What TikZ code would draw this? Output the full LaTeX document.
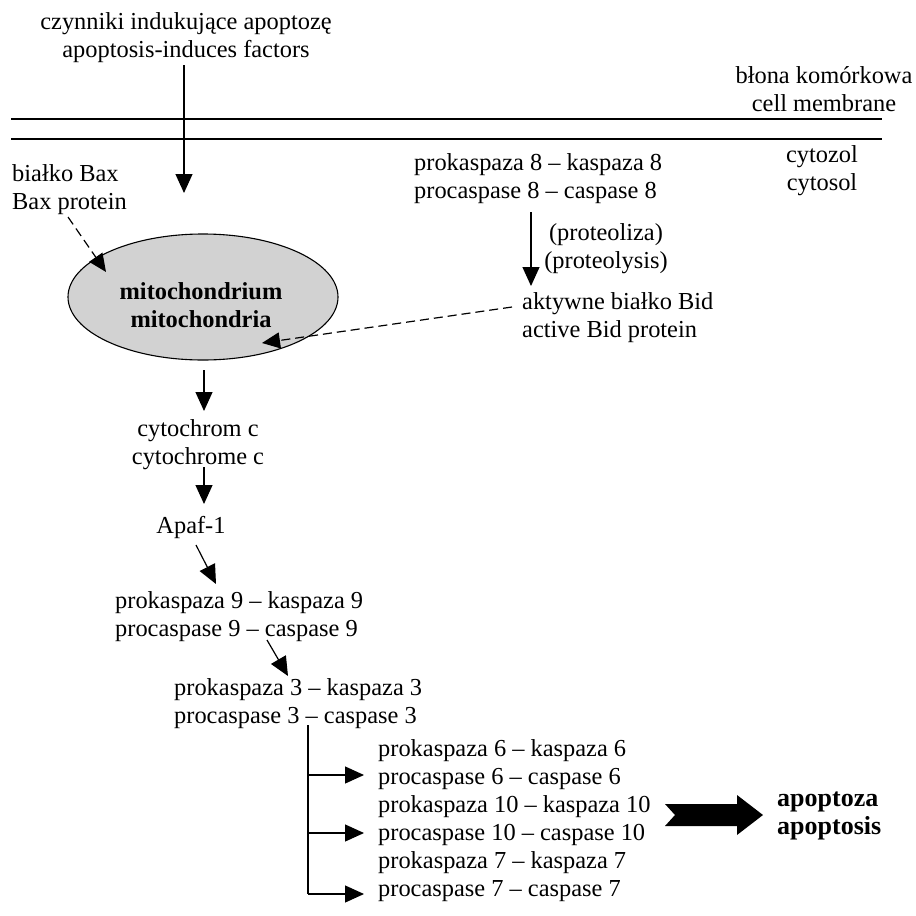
\documentclass[tikz,border=0pt]{standalone}
\usepackage{fontspec}
\setmainfont{Liberation Serif}
\usetikzlibrary{shapes.geometric,arrows.meta}
\begin{document}
\begin{tikzpicture}[x=1pt,y=-1pt,
  every node/.style={inner sep=0pt,font=\fontsize{24.4}{28}\selectfont},
  arr/.style={line width=1.2pt,-{Triangle[length=19pt,width=17pt]}},
  darr/.style={line width=1.2pt,dash pattern=on 9pt off 5pt,-{Triangle[length=18pt,width=16pt]}},
  lbl/.style={align=center},
  lbll/.style={align=left,anchor=west}]
\useasboundingbox (0,0) rectangle (916,916);
% membrane
\coordinate (m1l) at (11,119); \coordinate (m1r) at (882,119);
\coordinate (m2l) at (11,139); \coordinate (m2r) at (882,139);
\draw[line width=1.2pt] (m1l) -- (m1r);
\draw[line width=1.2pt] (m2l) -- (m2r);
% labels
\node[lbl] (top) at (186,38) {czynniki indukujące apoptozę\\apoptosis-induces factors};
\node[lbl] (memb) at (824,89) {błona komórkowa\\cell membrane};
\node[lbl] (cyto) at (822,171) {cytozol\\cytosol};
\node[lbll] (bax) at (12,190) {białko Bax\\Bax protein};
\node[ellipse,draw,line width=1.1pt,fill=gray!35,minimum width=270pt,minimum height=126pt] (mito) at (203,297) {};
\node[align=center,font=\fontsize{24.4}{28}\selectfont\bfseries] (mitotxt) at (201,305) {mitochondrium\\mitochondria};
\node[lbll] (c8) at (414,179) {prokaspaza 8 – kaspaza 8\\procaspase 8 – caspase 8};
\node[lbl] (prot) at (606,249) {(proteoliza)\\(proteolysis)};
\node[lbll] (bid) at (522,318) {aktywne białko Bid\\active Bid protein};
\node[lbl] (cyt) at (198,445) {cytochrom c\\cytochrome c};
\node[lbl] (apaf) at (191,527) {Apaf-1};
\node[lbll] (c9) at (115,617) {prokaspaza 9 – kaspaza 9\\procaspase 9 – caspase 9};
\node[lbll] (c3) at (174,704) {prokaspaza 3 – kaspaza 3\\procaspase 3 – caspase 3};
\node[lbll] (grp) at (378,821) {prokaspaza 6 – kaspaza 6\\procaspase 6 – caspase 6\\prokaspaza 10 – kaspaza 10\\procaspase 10 – caspase 10\\prokaspaza 7 – kaspaza 7\\procaspase 7 – caspase 7};
\node[lbll,font=\fontsize{26}{28}\selectfont\bfseries] (apo) at (777,816) {apoptoza\\apoptosis};
% arrows
\coordinate (t1) at (184,65); \coordinate (t2) at (184,193);
\draw[arr] (t1) -- (t2);
\coordinate (b1) at (68,217); \coordinate (b2) at (106,272);
\draw[darr] (b1) -- (b2);
\coordinate (p1) at (531,212); \coordinate (p2) at (531,286);
\draw[arr] (p1) -- (p2);
\coordinate (d1) at (512,307); \coordinate (d2) at (262,343);
\draw[darr] (d1) -- (d2);
\coordinate (e1) at (204,370); \coordinate (e2) at (204,411);
\draw[arr] (e1) -- (e2);
\coordinate (f1) at (204,467); \coordinate (f2) at (204,504);
\draw[arr] (f1) -- (f2);
\coordinate (g1) at (196,545); \coordinate (g2) at (216,584);
\draw[arr] (g1) -- (g2);
\coordinate (h1) at (267,640); \coordinate (h2) at (288,676);
\draw[arr] (h1) -- (h2);
% branches
\coordinate (v0) at (308,725);
\coordinate (v1) at (308,775); \coordinate (w1) at (364,775);
\coordinate (v2) at (308,833); \coordinate (w2) at (364,833);
\coordinate (v3) at (308,894); \coordinate (w3) at (364,894);
\draw[line width=1.2pt] (v0) -- (v3);
\draw[arr] (v1) -- (w1);
\draw[arr] (v2) -- (w2);
\draw[arr] (v3) -- (w3);
% big arrow
\fill (665,804) -- (675,815) -- (665,826) -- (737,826) -- (737,835) -- (763,815) -- (737,795) -- (737,804) -- cycle;
\end{tikzpicture}
\end{document}
